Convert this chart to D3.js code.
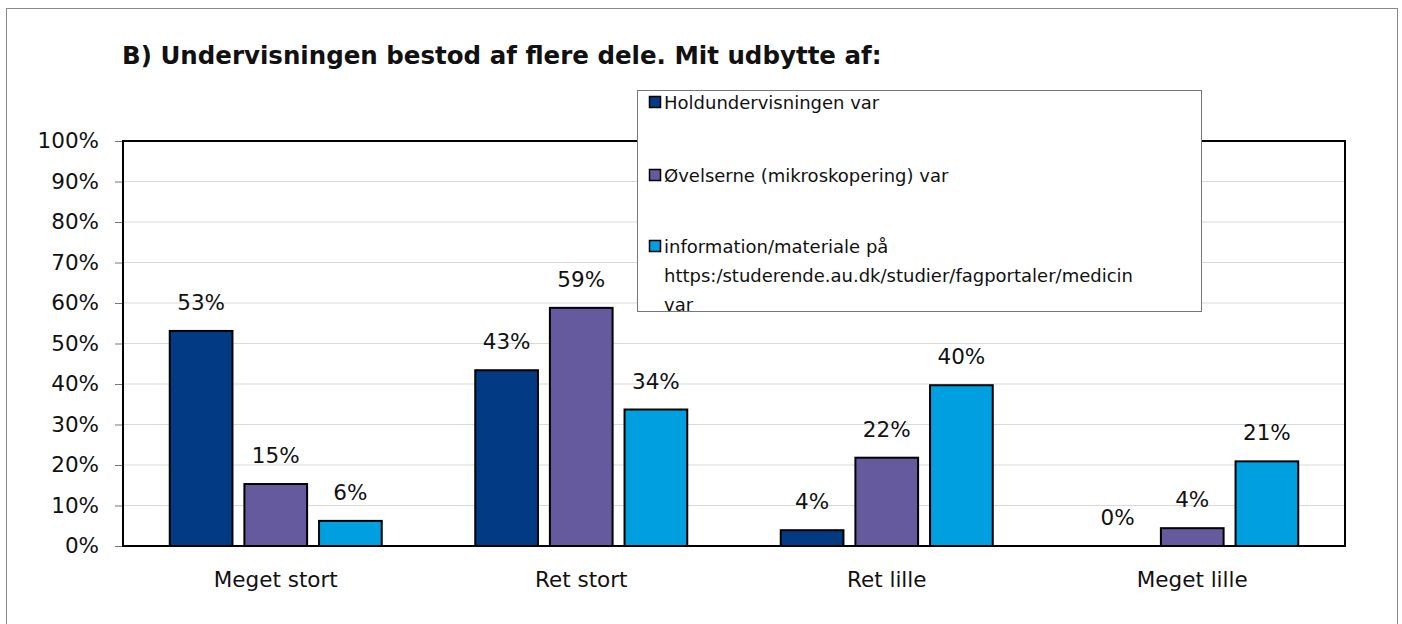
<!DOCTYPE html>
<html>
<head>
<meta charset="utf-8">
<script src="https://cdn.jsdelivr.net/npm/d3@7"></script>
<style>
  body { margin: 0; background: #fff; }
  svg text { font-family: "DejaVu Sans", sans-serif; fill: #111; }
</style>
</head>
<body>
<script>
const categories = ["Meget stort", "Ret stort", "Ret lille", "Meget lille"];
const seriesNames = [
  "Holdundervisningen var",
  "Øvelserne (mikroskopering) var",
  "information/materiale på https:/studerende.au.dk/studier/fagportaler/medicin var"
];
const holdValues = [0.531, 0.434, 0.039, 0.0];
const oevelseValues = [0.153, 0.588, 0.218, 0.044];
const infoValues = [0.062, 0.337, 0.397, 0.209];
const yTicks = [0, 0.1, 0.2, 0.3, 0.4, 0.5, 0.6, 0.7, 0.8, 0.9, 1.0];
const colors = ["#023b84", "#665a9e", "#009fdf"];

const w = 1402, h = 624;
const margin = {left: 123, right: 57, top: 141, bottom: 78};
const fs = 21.5;

const series = [holdValues, oevelseValues, infoValues];
const rows = [];
categories.forEach((c, i) => {
  series.forEach((vals, s) => rows.push({cat: c, s: s, v: vals[i]}));
});

const svg = d3.select("body").append("svg")
  .attr("width", w).attr("height", h);

// outer frame
svg.append("rect")
  .attr("x", 6.5).attr("y", 8.5)
  .attr("width", 1391).attr("height", 630)
  .attr("fill", "none").attr("stroke", "#888").attr("stroke-width", 1);

svg.append("text")
  .attr("x", 122).attr("y", 64)
  .attr("font-size", 24.5).attr("font-weight", "bold")
  .text("B) Undervisningen bestod af flere dele. Mit udbytte af:");

const x = d3.scaleBand()
  .domain(categories)
  .range([margin.left, w - margin.right]);
const xInner = d3.scaleBand()
  .domain([0, 1, 2])
  .range([0, 212])
  .paddingInner(0.16);
const y = d3.scaleLinear()
  .domain([0, 1])
  .range([h - margin.bottom, margin.top]);

// gridlines
svg.append("g").selectAll("line")
  .data(yTicks.slice(1, -1))
  .enter().append("line")
  .attr("x1", margin.left).attr("x2", w - margin.right)
  .attr("y1", d => y(d)).attr("y2", d => y(d))
  .attr("stroke", "#d9d9d9").attr("stroke-width", 1);

// y axis
const yAxis = d3.axisLeft(y)
  .tickValues(yTicks)
  .tickFormat(d3.format(".0%"))
  .tickSize(8)
  .tickPadding(16);
const yg = svg.append("g")
  .attr("transform", "translate(" + margin.left + ",0)")
  .call(yAxis);
yg.select(".domain").remove();
yg.selectAll(".tick line").attr("stroke", "#777");
yg.selectAll(".tick text")
  .attr("font-size", fs).attr("font-family", "DejaVu Sans, sans-serif").attr("fill", "#111");

// bars
const off = (x.bandwidth() - 212) / 2;
svg.append("g").selectAll("rect")
  .data(rows)
  .enter().append("rect")
  .attr("x", d => x(d.cat) + off + xInner(d.s))
  .attr("y", d => y(d.v))
  .attr("width", xInner.bandwidth())
  .attr("height", d => y(0) - y(d.v))
  .attr("fill", d => colors[d.s])
  .attr("stroke", "#000")
  .attr("stroke-width", 2);

// value labels
svg.append("g").selectAll("text")
  .data(rows)
  .enter().append("text")
  .attr("x", d => x(d.cat) + off + xInner(d.s) + xInner.bandwidth() / 2)
  .attr("y", d => y(d.v) - 21)
  .attr("text-anchor", "middle")
  .attr("font-size", fs)
  .text(d => d3.format(".0%")(d.v));

// plot border
svg.append("rect")
  .attr("x", margin.left).attr("y", margin.top)
  .attr("width", w - margin.left - margin.right)
  .attr("height", h - margin.top - margin.bottom)
  .attr("fill", "none").attr("stroke", "#000").attr("stroke-width", 2);

// x axis labels
const xAxis = d3.axisBottom(x).tickSize(0).tickPadding(26);
const xg = svg.append("g")
  .attr("transform", "translate(0," + (h - margin.bottom) + ")")
  .call(xAxis);
xg.select(".domain").remove();
xg.selectAll(".tick text")
  .attr("font-size", fs).attr("font-family", "DejaVu Sans, sans-serif").attr("fill", "#111");

// legend
const lg = svg.append("g");
lg.append("rect")
  .attr("x", 637.5).attr("y", 90.5)
  .attr("width", 564).attr("height", 221)
  .attr("fill", "#fff").attr("stroke", "#777").attr("stroke-width", 1);

const legendLines = [
  ["Holdundervisningen var"],
  ["Øvelserne (mikroskopering) var"],
  ["information/materiale på", "https:/studerende.au.dk/studier/fagportaler/medicin", "var"]
];
const legendY = [102, 175, 246];
legendLines.forEach((lines, i) => {
  lg.append("rect")
    .attr("x", 649.5).attr("y", legendY[i] - 5.5)
    .attr("width", 11).attr("height", 11)
    .attr("fill", colors[i]).attr("stroke", "#000").attr("stroke-width", 1.5);
  const t = lg.append("text")
    .attr("x", 664).attr("y", legendY[i] + 7)
    .attr("font-size", 18);
  lines.forEach((ln, k) => {
    t.append("tspan").attr("x", 664).attr("dy", k === 0 ? 0 : 29).text(ln);
  });
});
</script>
</body>
</html>
